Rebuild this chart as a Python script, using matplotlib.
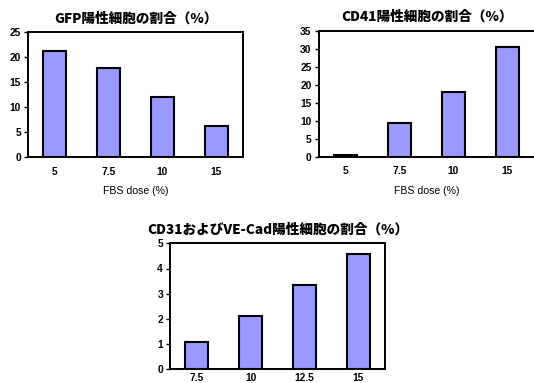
import matplotlib.pyplot as plt
from matplotlib import font_manager

# Liberation Sans Narrow ではなく通常幅の Liberation Sans を使う
sans_bold = None
sans_reg = None
for path in font_manager.findSystemFonts():
    name = path.rsplit('/', 1)[-1]
    if name == 'LiberationSans-Bold.ttf':
        sans_bold = font_manager.FontProperties(fname=path)
    elif name == 'LiberationSans-Regular.ttf':
        sans_reg = font_manager.FontProperties(fname=path)
if sans_bold is None:
    sans_bold = font_manager.FontProperties(family='DejaVu Sans', weight='bold')
if sans_reg is None:
    sans_reg = font_manager.FontProperties(family='DejaVu Sans')

# データ
doses_top = ['5', '7.5', '10', '15']
gfp_values = [21.2, 17.7, 11.9, 6.2]
cd41_values = [0.4, 9.4, 18.1, 30.6]
doses_bottom = ['7.5', '10', '12.5', '15']
cd31_values = [1.07, 2.12, 3.35, 4.56]

BAR_COLOR = '#9999FF'
W, H = 534, 383


def px_axes(fig, left, top, right, bottom):
    """ピクセル座標で軸を配置"""
    return fig.add_axes([left / W, 1 - bottom / H, (right - left) / W, (bottom - top) / H])


def draw_bars(ax, labels, values, ymax, step, title, xlabel=None, xpad=7):
    x = range(len(labels))
    ax.bar(x, values, width=0.43, color=BAR_COLOR, edgecolor='black', linewidth=1.5, zorder=3)
    ax.set_xlim(-0.5, len(labels) - 0.5)
    ax.set_ylim(0, ymax)
    ax.set_yticks(range(0, ymax + 1, step))
    ax.set_xticks(list(x))
    ax.set_xticklabels(labels)
    for s in ax.spines.values():
        s.set_linewidth(1.4)
    ax.tick_params(axis='x', length=0, pad=xpad)
    ax.tick_params(axis='y', direction='out', length=3, width=1, pad=2)
    for lab in ax.get_xticklabels() + ax.get_yticklabels():
        lab.set_fontproperties(sans_bold)
        lab.set_fontsize(7.4)
    ax.set_title(title, fontsize=9.8, fontweight=900, pad=7,
                 family=['Noto Sans CJK JP', 'DejaVu Sans'])
    if xlabel:
        ax.set_xlabel(xlabel, fontproperties=sans_reg, fontsize=7.6, labelpad=7)


fig = plt.figure(figsize=(W / 100, H / 100), dpi=100)

ax1 = px_axes(fig, 28, 32, 243, 157)
draw_bars(ax1, doses_top, gfp_values, 25, 5, 'GFP陽性細胞の割合（%）', 'FBS dose (%)')

ax2 = px_axes(fig, 318.5, 30.7, 534.5, 156.7)
draw_bars(ax2, doses_top, cd41_values, 35, 5, 'CD41陽性細胞の割合（%）', 'FBS dose (%)')

ax3 = px_axes(fig, 170, 243.3, 385, 369.3)
draw_bars(ax3, doses_bottom, cd31_values, 5, 1, 'CD31およびVE-Cad陽性細胞の割合（%）', xpad=3)

fig.savefig('out.png', dpi=100)
